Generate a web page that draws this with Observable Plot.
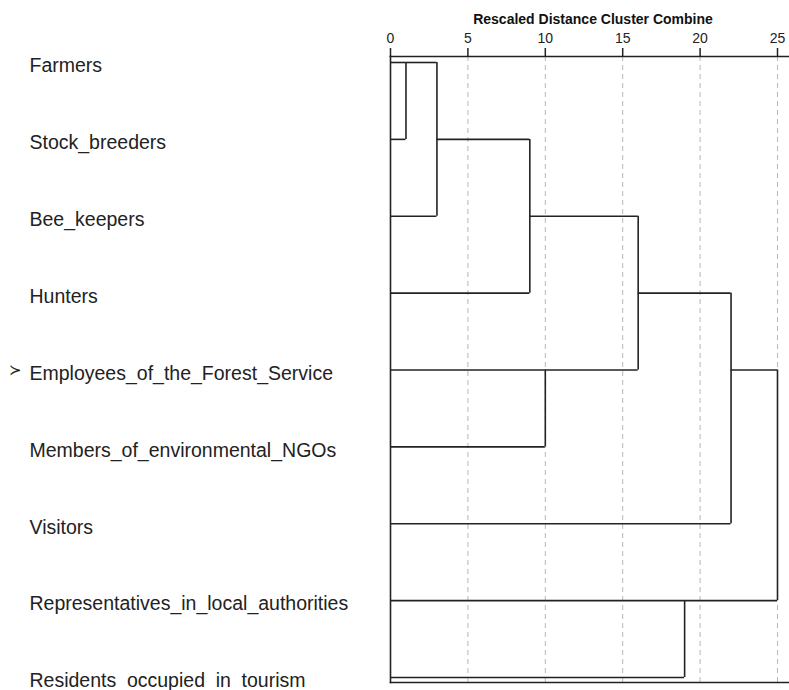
<!DOCTYPE html>
<html>
<head>
<meta charset="utf-8">
<script src="https://cdn.jsdelivr.net/npm/d3@7"></script>
<script src="https://cdn.jsdelivr.net/npm/@observablehq/plot@0.6"></script>
<style>
  html, body { margin: 0; padding: 0; background: #fff; }
  #chart svg { display: block; }
</style>
</head>
<body>
<div id="chart"></div>
<script>
// ---- data ----
const leaves = [
  "Farmers",
  "Stock_breeders",
  "Bee_keepers",
  "Hunters",
  "Employees_of_the_Forest_Service",
  "Members_of_environmental_NGOs",
  "Visitors",
  "Representatives_in_local_authorities",
  "Residents_occupied_in_tourism"
];
const leafLabels = [
  "Farmers",
  "Stock_breeders",
  "Bee_keepers",
  "Hunters",
  "Employees_of_the_Forest_Service",
  "Members_of_environmental_NGOs",
  "Visitors",
  "Representatives_in_local_authorities",
  "Residents occupied in tourism"
];
// agglomeration schedule: cluster ids 0-8 are leaves, 9+ are merged clusters
const mergeLeft     = [0, 9, 10, 4, 11, 7, 13, 15];
const mergeRight    = [1, 2, 3, 5, 12, 8, 6, 14];
const mergeDistance = [1, 3, 9, 10, 16, 19, 22, 25];
const axisTicks = [0, 5, 10, 15, 20, 25];
const axisTitle = "Rescaled Distance Cluster Combine";
const markedLeaf = "Employees_of_the_Forest_Service";
const markerGlyph = "\u227B";

// ---- build dendrogram segments from the schedule ----
const nodes = leaves.map((name, i) => ({x: 0, y: i}));
const hSegs = [], vSegs = [];
mergeDistance.forEach((d, k) => {
  const a = nodes[mergeLeft[k]], b = nodes[mergeRight[k]];
  hSegs.push({x1: a.x, x2: d, y: a.y});
  hSegs.push({x1: b.x, x2: d, y: b.y});
  vSegs.push({x: d, y1: Math.min(a.y, b.y), y2: Math.max(a.y, b.y)});
  nodes.push({x: d, y: Math.floor((a.y + b.y) / 2)});
});
const rows = leaves.map((name, i) => ({name, label: leafLabels[i], y: i}));

const lineColor = "#222";
const plot = Plot.plot({
  width: 789,
  height: 690,
  marginTop: 56,
  marginBottom: 8,
  marginLeft: 390,
  marginRight: 0,
  style: {fontFamily: "'Liberation Sans', Arial, sans-serif", fontSize: "14px", background: "#fff", overflow: "visible"},
  x: {domain: [0, 25], range: [390, 777]},
  y: {domain: [0, leaves.length - 1], range: [62, 677], axis: null},
  marks: [
    Plot.gridX(axisTicks.slice(1), {stroke: "#b8b8b8", strokeOpacity: 1, strokeWidth: 1, strokeDasharray: "5,4"}),
    Plot.ruleY(hSegs, {y: "y", x1: "x1", x2: "x2", stroke: lineColor, strokeWidth: 1.6}),
    Plot.ruleX(vSegs, {x: "x", y1: "y1", y2: "y2", stroke: lineColor, strokeWidth: 1.6}),
    Plot.frame({anchor: "top", stroke: lineColor, strokeWidth: 1.6}),
    Plot.frame({anchor: "left", stroke: lineColor, strokeWidth: 1.6}),
    Plot.frame({anchor: "bottom", stroke: lineColor, strokeWidth: 1.6}),
    Plot.axisX(axisTicks, {anchor: "top", tickSize: 9, tickPadding: 5, fontSize: 14, color: "#222", strokeWidth: 1.5, label: null}),
    Plot.text([axisTitle], {text: d => d, frameAnchor: "top", dx: 3, dy: -37, fontSize: 14, fontWeight: "bold", fill: "#111", lineAnchor: "middle"}),
    Plot.text(rows, {y: "y", text: "label", frameAnchor: "left", textAnchor: "start", dx: -361, dy: 3.5, fontSize: 19.5, fill: "#222"}),
    Plot.text(rows.filter(r => r.name === markedLeaf), {y: "y", text: () => markerGlyph, frameAnchor: "left", textAnchor: "middle", dx: -375, dy: 0, fontSize: 15, fill: "#222"})
  ]
});
plot.querySelectorAll("text").forEach(t => {
  if (t.textContent === leafLabels[leafLabels.length - 1]) t.setAttribute("word-spacing", "5.3");
});
document.getElementById("chart").appendChild(plot);
</script>
</body>
</html>
